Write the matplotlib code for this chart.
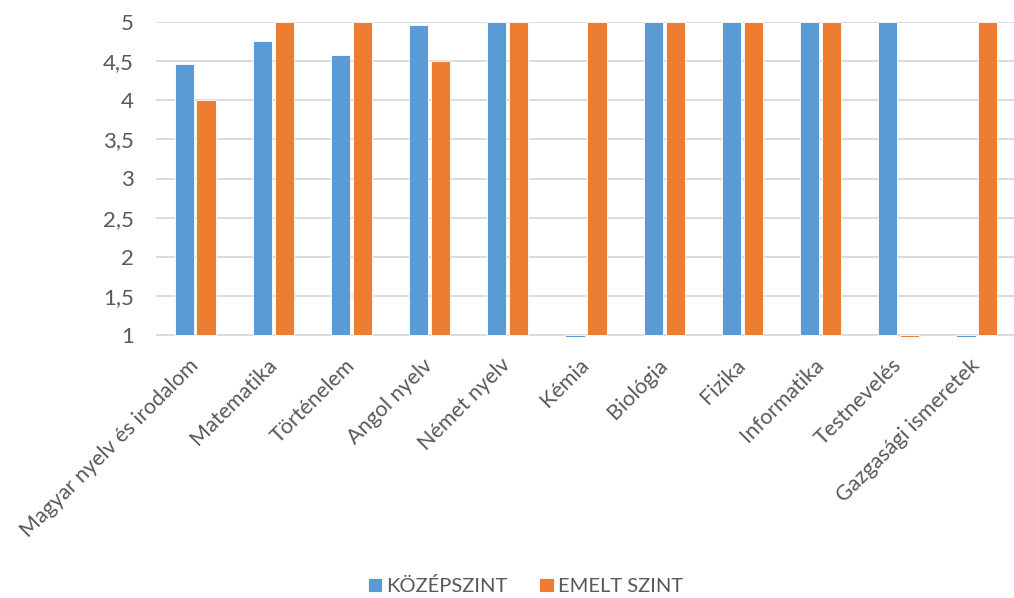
import matplotlib.pyplot as plt
import numpy as np

plt.rcParams['font.family'] = ['Lato', 'DejaVu Sans']

subjects = ['Magyar nyelv és irodalom', 'Matematika', 'Történelem', 'Angol nyelv',
            'Német nyelv', 'Kémia', 'Biológia', 'Fizika', 'Informatika',
            'Testnevelés', 'Gazgasági ismeretek']
kozepszint = [4.46, 4.76, 4.58, 4.96, 5, 0, 5, 5, 5, 5, 0]
emelt      = [4, 5, 5, 4.5, 5, 5, 5, 5, 5, 0, 5]
series_names = ['KÖZÉPSZINT', 'EMELT SZINT']

blue   = '#5B9BD5'
orange = '#ED7D31'
grid_c = '#D9D9D9'
text_c = '#595959'

fig = plt.figure(figsize=(10.14, 5.98), dpi=100)
ymin = 0.975
# axes placed in pixel terms: y=5 at 22px, y=1 at 335px
px_per_unit = (335 - 22) / 4.0
bottom_px = 335 + (1 - ymin) * px_per_unit
ax = fig.add_axes([156/1014, 1 - bottom_px/598, 860/1014, (bottom_px - 22)/598])

x = np.arange(len(subjects))
w = 0.245
base = 1.0
ax.bar(x - 0.14, np.array(kozepszint) - base, w, bottom=base, color=blue,
       edgecolor='white', linewidth=0.6, label=series_names[0], zorder=3)
ax.bar(x + 0.14, np.array(emelt) - base, w, bottom=base, color=orange,
       edgecolor='white', linewidth=0.6, label=series_names[1], zorder=3)

ax.set_xlim(-0.5, len(subjects) - 0.5)
ax.set_ylim(ymin, 5)
yt = np.arange(1, 5.01, 0.5)
ax.set_yticks(yt)
ax.set_yticklabels([('%g' % v).replace('.', ',') for v in yt])
for v in yt:
    ax.axhline(v, color=grid_c, lw=1.3, zorder=1)

for s in ax.spines.values():
    s.set_visible(False)
ax.tick_params(axis='y', length=0, pad=16, labelsize=16, labelcolor=text_c)
ax.tick_params(axis='x', length=0, pad=18, labelsize=15.5, labelcolor=text_c)
ax.set_xticks(x)
ax.set_xticklabels(subjects, rotation=45, ha='right', va='center',
                   rotation_mode='anchor')

fig.legend(loc='center', bbox_to_anchor=(0.518, 0.02), ncol=2, frameon=False,
           fontsize=14.5, labelcolor=text_c, handlelength=0.7, handleheight=0.7,
           columnspacing=1.6, handletextpad=0.2)

plt.savefig('out.png', dpi=100)
